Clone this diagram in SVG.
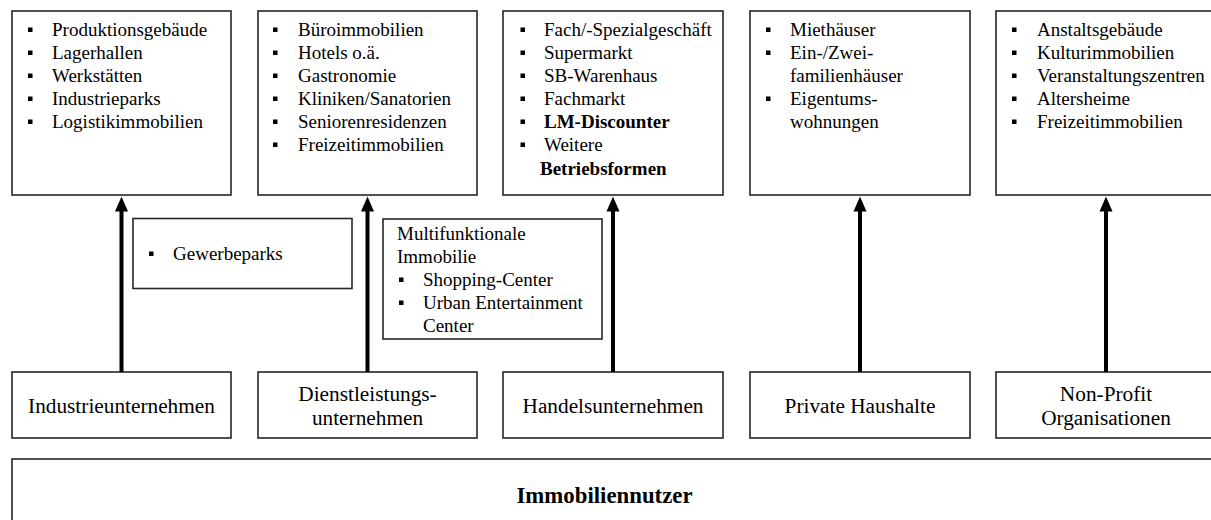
<svg xmlns="http://www.w3.org/2000/svg" width="1211" height="520" viewBox="0 0 1211 520">
  <style>
    .box { fill: #ffffff; stroke: #262626; stroke-width: 1.6; }
    .t { font-family: "Liberation Serif", "Times New Roman", serif; font-size: 19px; fill: #000; }
    .b { font-weight: bold; }
    .lbl { font-family: "Liberation Serif", "Times New Roman", serif; font-size: 21.3px; fill: #000; text-anchor: middle; }
    .title { font-family: "Liberation Serif", "Times New Roman", serif; font-size: 22.8px; font-weight: bold; fill: #000; text-anchor: middle; }
    .shaft { stroke: #000; stroke-width: 4; fill: none; }
    .head { fill: #000; }
  </style>
  <defs>
    <rect id="sq" width="4.5" height="4.5" fill="#000"/>
    <!-- upward arrowhead, tip at the origin -->
    <path id="tip" d="M0,0 L6.5,15 L-6.5,15 Z"/>
  </defs>

  <rect width="1211" height="520" fill="#ffffff"/>

  <!-- property types per user group -->
  <g id="obj-industrie">
    <rect class="box" x="12" y="11" width="219" height="184"/>
    <use href="#sq" x="28" y="27.5"/><use href="#sq" x="28" y="50.5"/><use href="#sq" x="28" y="73.5"/><use href="#sq" x="28" y="96.5"/><use href="#sq" x="28" y="119.5"/>
    <text class="t" x="52" y="36">Produktionsgebäude</text>
    <text class="t" x="52" y="59">Lagerhallen</text>
    <text class="t" x="52" y="82">Werkstätten</text>
    <text class="t" x="52" y="105">Industrieparks</text>
    <text class="t" x="52" y="128">Logistikimmobilien</text>
  </g>

  <g id="obj-dienstleistung">
    <rect class="box" x="258" y="11" width="219" height="184"/>
    <use href="#sq" x="273" y="27.5"/><use href="#sq" x="273" y="50.5"/><use href="#sq" x="273" y="73.5"/><use href="#sq" x="273" y="96.5"/><use href="#sq" x="273" y="119.5"/><use href="#sq" x="273" y="142.5"/>
    <text class="t" x="298" y="36">Büroimmobilien</text>
    <text class="t" x="298" y="59">Hotels o.ä.</text>
    <text class="t" x="298" y="82">Gastronomie</text>
    <text class="t" x="298" y="105">Kliniken/Sanatorien</text>
    <text class="t" x="298" y="128">Seniorenresidenzen</text>
    <text class="t" x="298" y="151">Freizeitimmobilien</text>
  </g>

  <g id="obj-handel">
    <rect class="box" x="503" y="11" width="220" height="184"/>
    <use href="#sq" x="520.5" y="27.5"/><use href="#sq" x="520.5" y="50.5"/><use href="#sq" x="520.5" y="73.5"/><use href="#sq" x="520.5" y="96.5"/><use href="#sq" x="520.5" y="119.5"/><use href="#sq" x="520.5" y="142.5"/>
    <text class="t" x="544" y="36">Fach/-Spezialgeschäft</text>
    <text class="t" x="544" y="59">Supermarkt</text>
    <text class="t" x="544" y="82">SB-Warenhaus</text>
    <text class="t" x="544" y="105">Fachmarkt</text>
    <text class="t b" x="544" y="128">LM-Discounter</text>
    <text class="t" x="544" y="151">Weitere</text>
    <text class="t b" x="540" y="175">Betriebsformen</text>
  </g>

  <g id="obj-privat">
    <rect class="box" x="750" y="11" width="220" height="184"/>
    <use href="#sq" x="766" y="27.5"/><use href="#sq" x="766" y="50.5"/><use href="#sq" x="766" y="96.5"/>
    <text class="t" x="790" y="36">Miethäuser</text>
    <text class="t" x="790" y="59">Ein-/Zwei-</text>
    <text class="t" x="790" y="82">familienhäuser</text>
    <text class="t" x="790" y="105">Eigentums-</text>
    <text class="t" x="790" y="128">wohnungen</text>
  </g>

  <g id="obj-nonprofit">
    <rect class="box" x="996" y="11" width="220" height="184"/>
    <use href="#sq" x="1012" y="27.5"/><use href="#sq" x="1012" y="50.5"/><use href="#sq" x="1012" y="73.5"/><use href="#sq" x="1012" y="96.5"/><use href="#sq" x="1012" y="119.5"/>
    <text class="t" x="1037" y="36">Anstaltsgebäude</text>
    <text class="t" x="1037" y="59">Kulturimmobilien</text>
    <text class="t" x="1037" y="82">Veranstaltungszentren</text>
    <text class="t" x="1037" y="105">Altersheime</text>
    <text class="t" x="1037" y="128">Freizeitimmobilien</text>
  </g>

  <!-- mixed-use categories between the columns -->
  <g id="obj-gewerbeparks">
    <rect class="box" x="133" y="218.5" width="219" height="70"/>
    <use href="#sq" x="149" y="251.5"/>
    <text class="t" x="173" y="260">Gewerbeparks</text>
  </g>

  <g id="obj-multifunktional">
    <rect class="box" x="383" y="219" width="219" height="120"/>
    <text class="t" x="397" y="240">Multifunktionale</text>
    <text class="t" x="397" y="263">Immobilie</text>
    <use href="#sq" x="399" y="277.5"/><use href="#sq" x="399" y="300.5"/>
    <text class="t" x="423" y="286">Shopping-Center</text>
    <text class="t" x="423" y="309">Urban Entertainment</text>
    <text class="t" x="423" y="332">Center</text>
  </g>

  <!-- user groups -->
  <g id="user-industrie">
    <rect class="box" x="12" y="372" width="219" height="66"/>
    <text class="lbl" x="121.5" y="413">Industrieunternehmen</text>
  </g>
  <g id="user-dienstleistung">
    <rect class="box" x="258" y="372" width="219" height="66"/>
    <text class="lbl" x="367.5" y="401">Dienstleistungs-</text>
    <text class="lbl" x="367.5" y="425">unternehmen</text>
  </g>
  <g id="user-handel">
    <rect class="box" x="503" y="372" width="220" height="66"/>
    <text class="lbl" x="613" y="413">Handelsunternehmen</text>
  </g>
  <g id="user-privat">
    <rect class="box" x="750" y="372" width="220" height="66"/>
    <text class="lbl" x="860" y="413">Private Haushalte</text>
  </g>
  <g id="user-nonprofit">
    <rect class="box" x="996" y="372" width="220" height="66"/>
    <text class="lbl" x="1106" y="401">Non-Profit</text>
    <text class="lbl" x="1106" y="425">Organisationen</text>
  </g>

  <g id="user-all">
    <rect class="box" x="12" y="459" width="1210" height="80"/>
    <text class="title" x="604.5" y="503">Immobiliennutzer</text>
  </g>

  <!-- arrows from user groups up to their property types -->
  <g id="connectors">
    <line class="shaft" x1="121.5" y1="372" x2="121.5" y2="209"/>
    <use class="head" href="#tip" x="121.5" y="196.5"/>
    <line class="shaft" x1="367.5" y1="372" x2="367.5" y2="209"/>
    <use class="head" href="#tip" x="367.5" y="196.5"/>
    <line class="shaft" x1="613" y1="372" x2="613" y2="209"/>
    <use class="head" href="#tip" x="613" y="196.5"/>
    <line class="shaft" x1="860" y1="372" x2="860" y2="209"/>
    <use class="head" href="#tip" x="860" y="196.5"/>
    <line class="shaft" x1="1106" y1="372" x2="1106" y2="209"/>
    <use class="head" href="#tip" x="1106" y="196.5"/>
  </g>
</svg>
